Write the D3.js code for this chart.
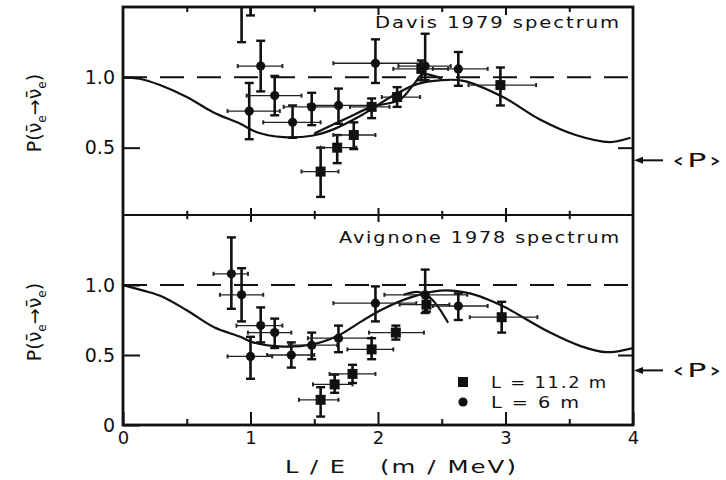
<!DOCTYPE html>
<html><head><meta charset="utf-8">
<script src="https://cdn.jsdelivr.net/npm/d3@7"></script>
<style>
body{margin:0;background:#fff;}
text{font-family:"DejaVu Sans",sans-serif;fill:#111;}
</style></head>
<body><svg id="c" width="726" height="480"></svg>
<script>
// ---------- data ----------
const xMajorTicks = [0, 1, 2, 3, 4];
const xMinorTicks = [0.5, 1.5, 2.5, 3.5];
const yTicksTop = [0.5, 1.0];
const yTicksBottom = [0, 0.5, 1.0];
const yTickLabels = {0: "0", 0.5: "0.5", 1: "1.0"};
const panelTitles = ["Davis 1979 spectrum", "Avignone 1978 spectrum"];
const meanP = [0.41, 0.39];
// points: [x, y, xLow, xHigh, yLow, yHigh]
const davis6m = [
  [0.93, 1.62, 0.93, 0.93, 1.25, 1.9],
  [1.00, 1.70, 1.00, 1.00, 1.44, 1.9],
  [1.08, 1.08, 0.90, 1.25, 0.90, 1.26],
  [0.99, 0.76, 0.82, 1.23, 0.56, 0.96],
  [1.19, 0.87, 0.97, 1.40, 0.73, 1.01],
  [1.33, 0.68, 1.10, 1.55, 0.57, 0.80],
  [1.48, 0.79, 1.26, 1.68, 0.66, 0.89],
  [1.69, 0.80, 1.45, 1.94, 0.67, 0.92],
  [1.98, 1.10, 1.65, 2.33, 0.96, 1.27],
  [2.37, 1.08, 2.16, 2.57, 0.98, 1.31],
  [2.63, 1.06, 2.43, 2.86, 0.94, 1.18]
];
const davis11m = [
  [1.55, 0.33, 1.40, 1.69, 0.15, 0.50],
  [1.68, 0.50, 1.55, 1.83, 0.39, 0.59],
  [1.81, 0.59, 1.65, 1.98, 0.49, 0.68],
  [1.95, 0.79, 1.78, 2.09, 0.71, 0.85],
  [2.15, 0.86, 2.03, 2.33, 0.79, 0.93],
  [2.34, 1.06, 2.12, 2.55, 0.98, 1.12],
  [2.96, 0.945, 2.71, 3.24, 0.80, 1.07]
];
const avignone6m = [
  [0.85, 1.08, 0.71, 0.98, 0.83, 1.34],
  [0.93, 0.93, 0.76, 1.10, 0.74, 1.12],
  [1.08, 0.71, 0.89, 1.25, 0.59, 0.84],
  [1.19, 0.66, 0.98, 1.32, 0.55, 0.76],
  [1.00, 0.49, 0.82, 1.17, 0.33, 0.63],
  [1.32, 0.50, 1.13, 1.50, 0.41, 0.59],
  [1.48, 0.57, 1.30, 1.68, 0.47, 0.66],
  [1.69, 0.62, 1.45, 1.95, 0.52, 0.71],
  [1.98, 0.87, 1.65, 2.30, 0.74, 0.99],
  [2.37, 0.93, 2.05, 2.70, 0.80, 1.11],
  [2.63, 0.85, 2.43, 2.86, 0.75, 0.94]
];
const avignone11m = [
  [1.55, 0.18, 1.38, 1.69, 0.06, 0.27],
  [1.66, 0.29, 1.49, 1.80, 0.23, 0.36],
  [1.80, 0.365, 1.62, 1.98, 0.30, 0.43],
  [1.95, 0.54, 1.76, 2.12, 0.47, 0.62],
  [2.14, 0.66, 1.93, 2.36, 0.61, 0.71],
  [2.38, 0.86, 2.17, 2.56, 0.81, 0.91],
  [2.97, 0.77, 2.72, 3.25, 0.66, 0.88]
];
// theoretical curves [x, P]
const davisCurve = [[0,1.0],[0.13,0.99],[0.29,0.945],[0.5,0.86],[0.71,0.75],[0.92,0.67],[1.05,0.61],[1.26,0.575],[1.48,0.585],[1.65,0.63],[1.87,0.73],[2.1,0.86],[2.3,0.95],[2.5,0.98],[2.67,0.975],[2.98,0.86],[3.27,0.70],[3.55,0.59],[3.82,0.54],[3.98,0.57]];
const davisCurve11 = [[1.5,0.60],[1.78,0.72],[1.95,0.79],[2.17,0.84],[2.28,0.95],[2.35,1.02],[2.5,0.99]];
const avignoneCurve = [[0,1.0],[0.16,0.96],[0.3,0.92],[0.5,0.82],[0.71,0.70],[0.92,0.63],[1.02,0.59],[1.26,0.56],[1.48,0.575],[1.69,0.64],[1.87,0.74],[2.02,0.82],[2.25,0.91],[2.49,0.96],[2.72,0.94],[2.93,0.87],[3.01,0.835],[3.35,0.66],[3.6,0.56],[3.79,0.52],[4.0,0.55]];
const avignoneCurve11 = [[2.2,0.93],[2.32,0.95],[2.42,0.90],[2.55,0.73]];
const legendLabels = ["L = 11.2 m", "L = 6 m"];
const xLabelParts = ["L / E", "(m / MeV)"];

// ---------- drawing ----------
const svg = d3.select("#c");
const X0 = 123, X1 = 633;
const x = d3.scaleLinear().domain([0, 4]).range([X0, X1]);
const panels = [
  {top: 7, bottom: 215, y: d3.scaleLinear().domain([0, 1.5]).range([218, 7]), p6: davis6m, p11: davis11m, curve: davisCurve, curve11: davisCurve11, title: panelTitles[0], titleY: 28, meanP: meanP[0], yt: yTicksTop},
  {top: 215, bottom: 425, y: d3.scaleLinear().domain([0, 1.5]).range([425, 215]), p6: avignone6m, p11: avignone11m, curve: avignoneCurve, curve11: avignoneCurve11, title: panelTitles[1], titleY: 243, meanP: meanP[1], yt: yTicksBottom}
];

function wideText(sel, len) {
  return sel.attr("textLength", len).attr("lengthAdjust", "spacingAndGlyphs").attr("letter-spacing", 1.5);
}

panels.forEach((P, i) => {
  const g = svg.append("g");
  const cid = "clip" + i;
  svg.append("clipPath").attr("id", cid).append("rect")
    .attr("x", X0).attr("y", P.top).attr("width", X1 - X0).attr("height", P.bottom - P.top);
  const pg = g.append("g").attr("clip-path", `url(#${cid})`);

  pg.append("line").attr("x1", X0).attr("x2", X1).attr("y1", P.y(1)).attr("y2", P.y(1))
    .attr("stroke", "#111").attr("stroke-width", 2).attr("stroke-dasharray", "24,13");

  const line = d3.line().x(d => x(d[0])).y(d => P.y(d[1])).curve(d3.curveCatmullRom);
  pg.append("path").attr("d", line(P.curve)).attr("fill", "none").attr("stroke", "#111").attr("stroke-width", 2.2);
  pg.append("path").attr("d", line(P.curve11)).attr("fill", "none").attr("stroke", "#111").attr("stroke-width", 2.2);

  function errBars(data) {
    data.forEach(d => {
      const cx = x(d[0]), cy = P.y(d[1]);
      pg.append("line").attr("x1", x(d[2])).attr("x2", x(d[3])).attr("y1", cy).attr("y2", cy)
        .attr("stroke", "#222").attr("stroke-width", 1.3);
      [d[2], d[3]].forEach(v => pg.append("line").attr("x1", x(v)).attr("x2", x(v)).attr("y1", cy - 2).attr("y2", cy + 2)
        .attr("stroke", "#222").attr("stroke-width", 2));
      pg.append("line").attr("x1", cx).attr("x2", cx).attr("y1", P.y(d[4])).attr("y2", P.y(d[5]))
        .attr("stroke", "#111").attr("stroke-width", 2.6);
      [d[4], d[5]].forEach(v => pg.append("line").attr("x1", cx - 4.5).attr("x2", cx + 4.5).attr("y1", P.y(v)).attr("y2", P.y(v))
        .attr("stroke", "#111").attr("stroke-width", 2.4));
    });
  }
  errBars(P.p6);
  errBars(P.p11);
  pg.selectAll(null).data(P.p6).enter().append("circle")
    .attr("cx", d => x(d[0])).attr("cy", d => P.y(d[1])).attr("r", 4.6).attr("fill", "#111");
  pg.selectAll(null).data(P.p11).enter().append("rect")
    .attr("x", d => x(d[0]) - 5).attr("y", d => P.y(d[1]) - 5).attr("width", 10).attr("height", 10).attr("fill", "#111");

  const tickStyle = sel => { sel.select(".domain").remove(); sel.selectAll(".tick line").attr("stroke", "#111").attr("stroke-width", 2); };
  const la = g.append("g").attr("transform", `translate(${X0},0)`)
    .call(d3.axisLeft(P.y).tickValues(P.yt).tickSize(-17).tickPadding(8).tickFormat(v => yTickLabels[v]));
  tickStyle(la);
  la.selectAll(".tick text").attr("font-size", 19).attr("font-family", "DejaVu Sans").attr("fill", "#111");
  const ra = g.append("g").attr("transform", `translate(${X1},0)`)
    .call(d3.axisRight(P.y).tickValues([0.5]).tickSize(-15).tickFormat(""));
  tickStyle(ra);
  if (i === 0) {
    const ta = g.append("g").attr("transform", `translate(0,${P.top})`)
      .call(d3.axisTop(x).tickValues(xMajorTicks.slice(1, 4)).tickSize(-8).tickFormat(""));
    tickStyle(ta);
    const ta2 = g.append("g").attr("transform", `translate(0,${P.top})`)
      .call(d3.axisTop(x).tickValues(xMinorTicks).tickSize(-5).tickFormat(""));
    tickStyle(ta2);
  } else {
    [-7, 7].forEach(s => {
      const da = g.append("g").attr("transform", `translate(0,${P.top})`)
        .call(d3.axisTop(x).tickValues(xMajorTicks.slice(1, 4)).tickSize(s).tickFormat(""));
      tickStyle(da);
      const db = g.append("g").attr("transform", `translate(0,${P.top})`)
        .call(d3.axisTop(x).tickValues(xMinorTicks).tickSize(s * 0.6).tickFormat(""));
      tickStyle(db);
    });
    const ba = g.append("g").attr("transform", `translate(0,${P.bottom})`)
      .call(d3.axisBottom(x).tickValues(xMajorTicks).tickSize(-13).tickPadding(4).tickFormat(d3.format("d")));
    tickStyle(ba);
    ba.selectAll(".tick text").attr("font-size", 18).attr("font-family", "DejaVu Sans").attr("fill", "#111").attr("dy", "0.85em");
    const bb = g.append("g").attr("transform", `translate(0,${P.bottom})`)
      .call(d3.axisBottom(x).tickValues(xMinorTicks).tickSize(-6).tickFormat(""));
    tickStyle(bb);
  }

  wideText(g.append("text").attr("x", 621).attr("y", P.titleY).attr("text-anchor", "end")
    .attr("font-size", 15).attr("font-weight", 500), i === 0 ? 246 : 282).text(P.title);

  const ay = P.y(P.meanP);
  g.append("line").attr("x1", X1 + 6).attr("x2", X1 + 30).attr("y1", ay).attr("y2", ay).attr("stroke", "#111").attr("stroke-width", 2);
  g.append("path").attr("d", `M${X1 + 1},${ay} l9,-3.5 l0,7 z`).attr("fill", "#111");
  wideText(g.append("text").attr("x", X1 + 39).attr("y", ay + 7).attr("font-size", 19), 52).text("\u2039P\u203A");

  const yl = g.append("text").attr("transform", `translate(41,${(P.top + P.bottom) / 2 + 2}) rotate(-90)`)
    .attr("text-anchor", "middle").attr("font-size", 19);
  yl.append("tspan").text("P(");
  yl.append("tspan").text("\u03BD\u0304");
  yl.append("tspan").attr("font-size", 12).attr("dy", 5).text("e");
  yl.append("tspan").attr("dy", -5).text("\u2192");
  yl.append("tspan").text("\u03BD\u0304");
  yl.append("tspan").attr("font-size", 12).attr("dy", 5).text("e");
  yl.append("tspan").attr("dy", -5).text(")");
});

svg.append("rect").attr("x", X0).attr("y", 7).attr("width", X1 - X0).attr("height", 418)
  .attr("fill", "none").attr("stroke", "#111").attr("stroke-width", 2.8);
svg.append("line").attr("x1", X0).attr("x2", X1).attr("y1", 215).attr("y2", 215)
  .attr("stroke", "#111").attr("stroke-width", 2);

const leg = svg.append("g");
leg.append("rect").attr("x", 458).attr("y", 377).attr("width", 10).attr("height", 10).attr("fill", "#111");
leg.append("circle").attr("cx", 463).attr("cy", 402).attr("r", 4.6).attr("fill", "#111");
wideText(leg.append("text").attr("x", 491).attr("y", 388).attr("font-size", 15), 117).text(legendLabels[0]);
wideText(leg.append("text").attr("x", 491).attr("y", 408).attr("font-size", 15), 90).text(legendLabels[1]);

wideText(svg.append("text").attr("x", 285).attr("y", 473).attr("font-size", 18), 62).text(xLabelParts[0]);
wideText(svg.append("text").attr("x", 380).attr("y", 473).attr("font-size", 18), 138).text(xLabelParts[1]);
</script></body></html>
